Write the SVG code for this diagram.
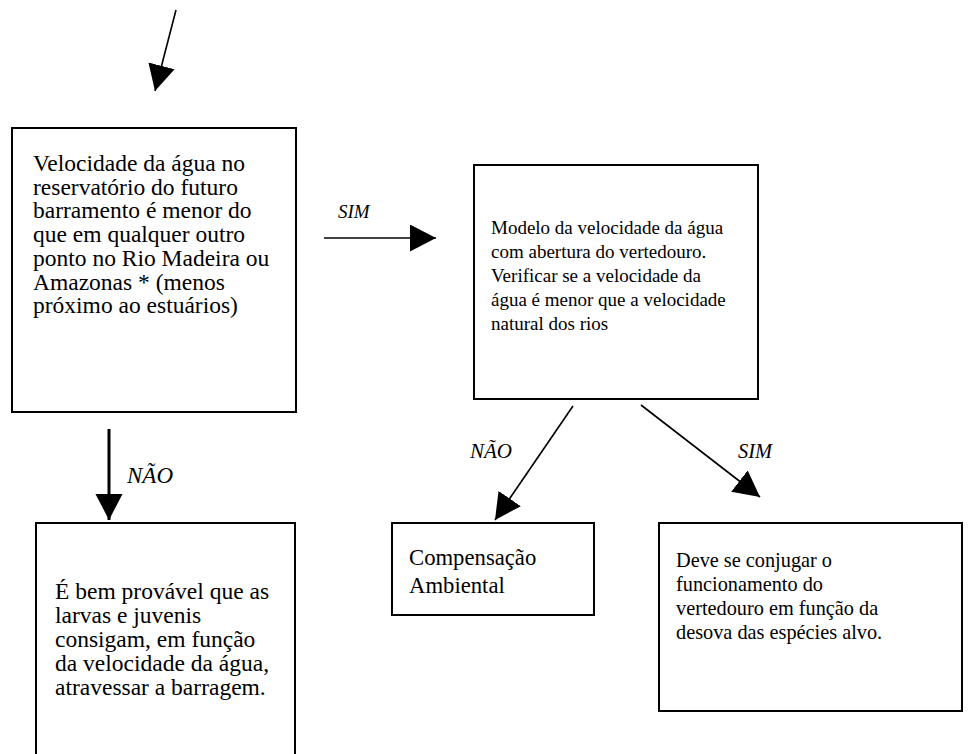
<svg xmlns="http://www.w3.org/2000/svg" width="979" height="754" viewBox="0 0 979 754">
<style>
.box{fill:#fff;stroke:#000;stroke-width:2}
.c{stroke:#000;stroke-width:1.6;fill:none;marker-end:url(#ah)}
text{font-family:'Liberation Serif','Times New Roman',serif;fill:#000}
.lbl{font-style:italic}
</style>
<defs>
<marker id="ah" markerUnits="userSpaceOnUse" markerWidth="28" markerHeight="28" refX="26" refY="13.5" orient="auto">
<path d="M0,0 L26,13.5 L0,27 Z" fill="#000"/>
</marker>
</defs>
<g id="connectors">
<line class="c" x1="176" y1="10" x2="155" y2="91"/>
<line class="c" x1="324" y1="238" x2="436" y2="238"/>
<line class="c" x1="109" y1="429" x2="109" y2="520" style="stroke-width:3"/>
<line class="c" x1="573" y1="406" x2="495" y2="520"/>
<line class="c" x1="641" y1="405" x2="760" y2="497"/>
<text class="lbl" x="338" y="218" font-size="19">SIM</text>
<text class="lbl" x="127" y="483" font-size="23">NÃO</text>
<text class="lbl" x="470" y="458" font-size="21">NÃO</text>
<text class="lbl" x="738" y="458" font-size="20.5">SIM</text>
</g>
<g id="n1" font-size="23.5">
<rect class="box" x="12" y="128" width="284" height="284"/>
<text x="33" y="171">Velocidade da água no</text>
<text x="33" y="194.7">reservatório do futuro</text>
<text x="33" y="218.4">barramento é menor do</text>
<text x="33" y="242.1">que em qualquer outro</text>
<text x="33" y="265.8">ponto no Rio Madeira ou</text>
<text x="33" y="289.5">Amazonas * (menos</text>
<text x="33" y="313.2">próximo ao estuários)</text>
</g>
<g id="n2" font-size="19">
<rect class="box" x="474" y="165" width="284" height="234"/>
<text x="491" y="234">Modelo da velocidade da água</text>
<text x="491" y="258">com abertura do vertedouro.</text>
<text x="491" y="282">Verificar se a velocidade da</text>
<text x="491" y="306">água é menor que a velocidade</text>
<text x="491" y="330">natural dos rios</text>
</g>
<g id="n3" font-size="23.5">
<rect class="box" x="36" y="523" width="259" height="250"/>
<text x="55" y="599">É bem provável que as</text>
<text x="55" y="623">larvas e juvenis</text>
<text x="55" y="647">consigam, em função</text>
<text x="55" y="671">da velocidade da água,</text>
<text x="55" y="695">atravessar a barragem.</text>
</g>
<g id="n4" font-size="22.7">
<rect class="box" x="392" y="523" width="202" height="92"/>
<text x="409" y="565">Compensação</text>
<text x="409" y="593">Ambiental</text>
</g>
<g id="n5" font-size="20.3">
<rect class="box" x="659" y="523" width="303" height="188"/>
<text x="676" y="567">Deve se conjugar o</text>
<text x="676" y="591">funcionamento do</text>
<text x="676" y="615">vertedouro em função da</text>
<text x="676" y="639">desova das espécies alvo.</text>
</g>
</svg>
